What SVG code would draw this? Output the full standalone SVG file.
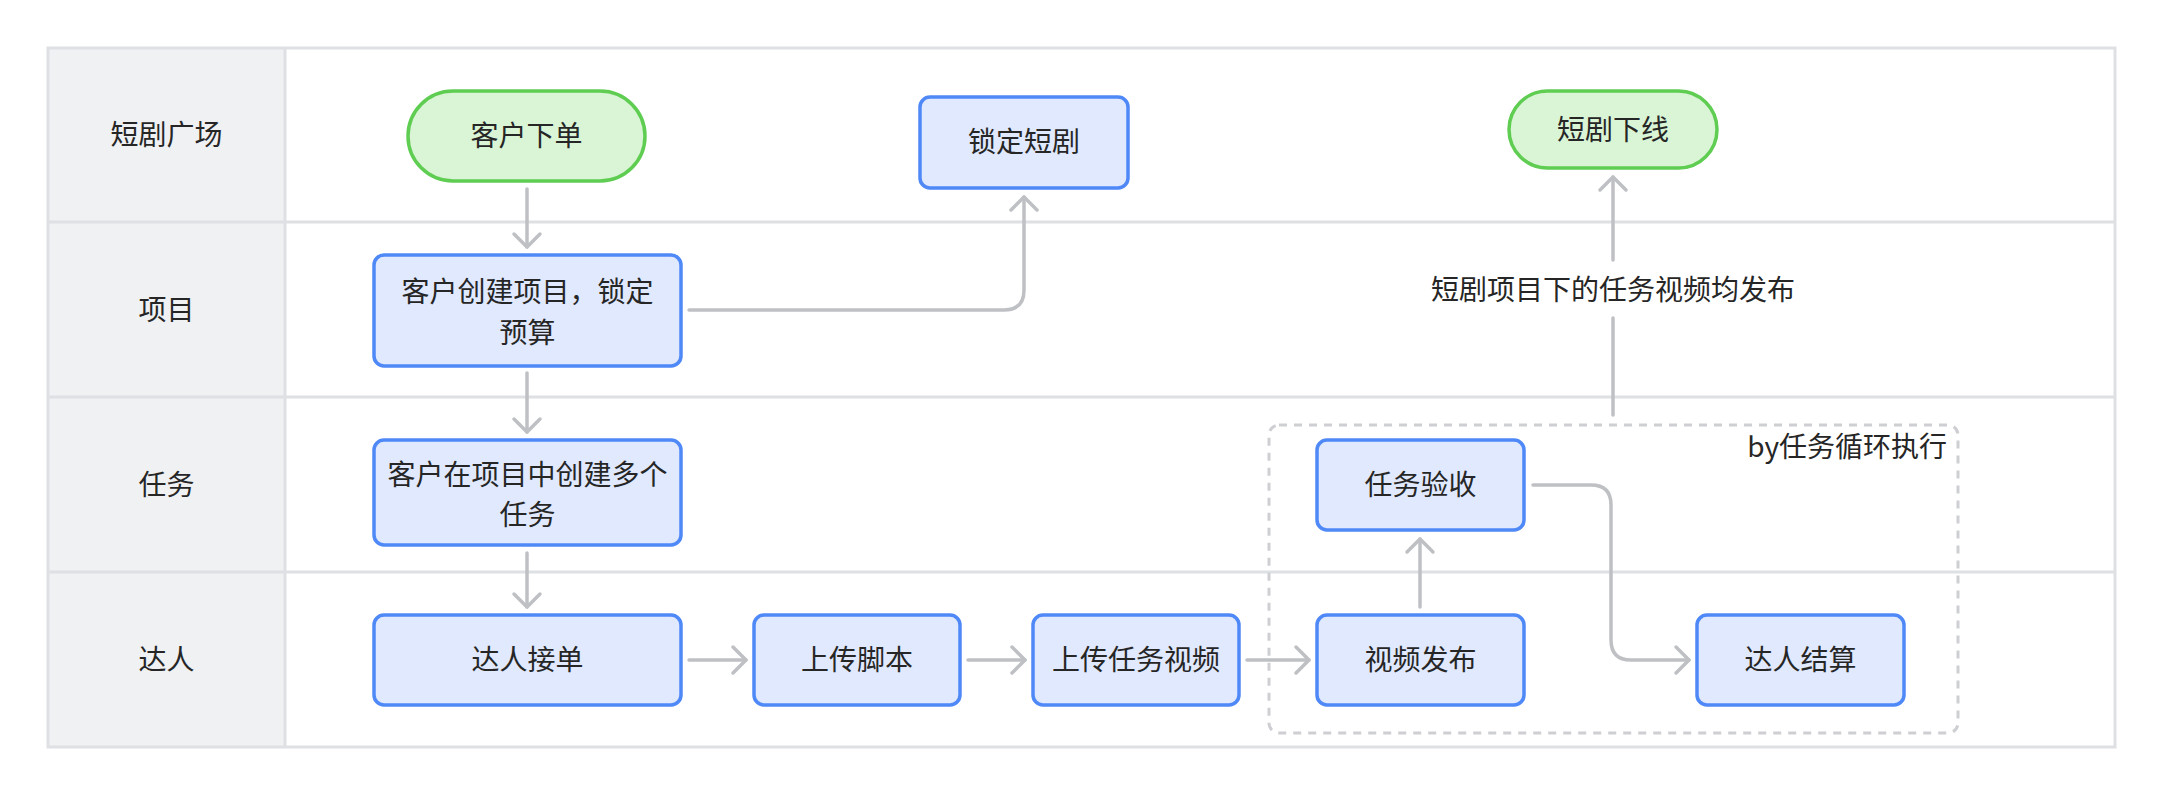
<svg xmlns="http://www.w3.org/2000/svg" width="2162" height="794" viewBox="0 0 2162 794">
<style>
text{font-family:"Noto Sans CJK SC","Noto Sans",sans-serif;font-size:28px;fill:#262626;text-anchor:middle}
.grid{fill:none;stroke:#DEE0E3;stroke-width:3}
.blue{fill:#E0E9FD;stroke:#4F88F7;stroke-width:3.5}
.green{fill:#DAF5D6;stroke:#5FCD52;stroke-width:3.5}
.edge{fill:none;stroke:#BEC0C4;stroke-width:3.5;stroke-linecap:round;stroke-linejoin:round}
</style>
<defs>
<marker id="arr" markerUnits="userSpaceOnUse" markerWidth="40" markerHeight="40" viewBox="-20 -20 40 40" refX="0" refY="0" orient="auto">
<path d="M-13,-13 L0,0 L-13,13" fill="none" stroke="#BEC0C4" stroke-width="3.5" stroke-linecap="round" stroke-linejoin="round"/>
</marker>
</defs>
<rect width="2162" height="794" fill="#FFFFFF"/>
<g id="lanes">
<rect x="48" y="48" width="237" height="699" fill="#F0F1F3"/>
<rect class="grid" x="48" y="48" width="2067" height="699"/>
<line class="grid" x1="285" y1="48" x2="285" y2="747"/>
<line class="grid" x1="48" y1="222" x2="2115" y2="222"/>
<line class="grid" x1="48" y1="397" x2="2115" y2="397"/>
<line class="grid" x1="48" y1="572" x2="2115" y2="572"/>
<text x="166.5" y="145">短剧广场</text>
<text x="166.5" y="320">项目</text>
<text x="166.5" y="495">任务</text>
<text x="166.5" y="670">达人</text>
</g>
<g id="loop-group">
<rect x="1269" y="425" width="689" height="308" rx="10" fill="none" stroke="#CDCFD3" stroke-width="3" stroke-dasharray="8 7"/>
<text x="1947" y="457" style="text-anchor:end">by任务循环执行</text>
</g>
<g id="connectors">
<path class="edge" marker-end="url(#arr)" d="M527,189 V247"/>
<path class="edge" marker-end="url(#arr)" d="M527,373 V432"/>
<path class="edge" marker-end="url(#arr)" d="M527,553 V607"/>
<path class="edge" marker-end="url(#arr)" d="M689,310 H1004 Q1024,310 1024,290 V197"/>
<path class="edge" marker-end="url(#arr)" d="M689,660 H746"/>
<path class="edge" marker-end="url(#arr)" d="M968,660 H1025"/>
<path class="edge" marker-end="url(#arr)" d="M1247,660 H1309"/>
<path class="edge" marker-end="url(#arr)" d="M1420,607 V539"/>
<path class="edge" marker-end="url(#arr)" d="M1533,485 H1591 Q1611,485 1611,505 V640 Q1611,660 1631,660 H1689"/>
<path class="edge" d="M1613,415 V318"/>
<path class="edge" marker-end="url(#arr)" d="M1613,260 V177"/>
<text x="1613" y="300">短剧项目下的任务视频均发布</text>
</g>
<g id="n-order">
<rect class="green" x="408" y="91" width="237" height="90" rx="45"/>
<text x="526.5" y="146">客户下单</text>
</g>
<g id="n-lock-drama">
<rect class="blue" x="920" y="97" width="208" height="91" rx="10"/>
<text x="1024" y="152">锁定短剧</text>
</g>
<g id="n-offline">
<rect class="green" x="1509" y="91" width="208" height="77" rx="38.5"/>
<text x="1613" y="140">短剧下线</text>
</g>
<g id="n-create-project">
<rect class="blue" x="374" y="255" width="307" height="111" rx="10"/>
<text x="527.5" y="302">客户创建项目，锁定</text>
<text x="527.5" y="343">预算</text>
</g>
<g id="n-create-tasks">
<rect class="blue" x="374" y="440" width="307" height="105" rx="10"/>
<text x="527.5" y="485">客户在项目中创建多个</text>
<text x="527.5" y="525">任务</text>
</g>
<g id="n-accept">
<rect class="blue" x="374" y="615" width="307" height="90" rx="10"/>
<text x="527.5" y="670">达人接单</text>
</g>
<g id="n-script">
<rect class="blue" x="754" y="615" width="206" height="90" rx="10"/>
<text x="857" y="670">上传脚本</text>
</g>
<g id="n-upload-video">
<rect class="blue" x="1033" y="615" width="206" height="90" rx="10"/>
<text x="1136" y="670">上传任务视频</text>
</g>
<g id="n-publish">
<rect class="blue" x="1317" y="615" width="207" height="90" rx="10"/>
<text x="1420.5" y="670">视频发布</text>
</g>
<g id="n-review">
<rect class="blue" x="1317" y="440" width="207" height="90" rx="10"/>
<text x="1420.5" y="495">任务验收</text>
</g>
<g id="n-settle">
<rect class="blue" x="1697" y="615" width="207" height="90" rx="10"/>
<text x="1800.5" y="670">达人结算</text>
</g>
</svg>
